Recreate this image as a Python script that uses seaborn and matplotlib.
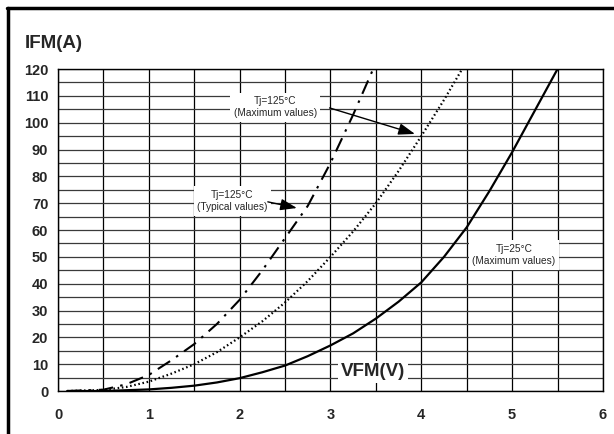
import numpy as np
import pandas as pd
import matplotlib
matplotlib.use("Agg")
import matplotlib.pyplot as plt
from matplotlib.lines import Line2D
import seaborn as sns

# ---- data ----
v_25max = [0.1, 0.5, 1.0, 1.25, 1.5, 1.75, 2.0, 2.25, 2.5, 2.75, 3.0, 3.25, 3.5, 3.75,
           4.0, 4.25, 4.5, 4.75, 5.0, 5.25, 5.5]
i_25max = [0, 0, 0.6, 1.2, 2, 3.2, 4.8, 7, 9.5, 13, 17, 21.5, 27, 33.3,
           40.5, 50, 61, 74.5, 89, 104.5, 120]

v_125max = [0.1, 0.5, 0.75, 1.0, 1.25, 1.5, 1.75, 2.0, 2.25, 2.5, 2.75, 3.0, 3.25, 3.5,
            3.75, 4.0, 4.25, 4.45]
i_125max = [0, 0.4, 1.5, 3.5, 6.5, 10, 14.5, 20, 26, 33, 41, 50, 59.5, 70,
            82, 95, 108.5, 120]

v_125typ = [0.1, 0.5, 0.75, 1.0, 1.25, 1.5, 1.75, 2.0, 2.25, 2.5, 2.75, 3.0, 3.25, 3.47]
i_125typ = [0, 0.5, 2.5, 6, 11.5, 17.5, 25, 34, 45, 57, 69, 85, 103, 120]

x_ticks = [0, 1, 2, 3, 4, 5, 6]
y_ticks = [0, 10, 20, 30, 40, 50, 60, 70, 80, 90, 100, 110, 120]

label_125max = "Tj=125°C\n(Maximum values)"
label_125typ = "Tj=125°C\n(Typical values)"
label_25max = "Tj=25°C\n(Maximum values)"

sns.set_style("white")
plt.rcParams['font.family'] = ['Liberation Sans', 'DejaVu Sans']

fig, ax = plt.subplots(figsize=(6.14, 4.34), dpi=100)
fig.subplots_adjust(left=0.0945, right=0.982, bottom=0.099, top=0.841)

df25 = pd.DataFrame({"V": v_25max, "I": i_25max})
df125m = pd.DataFrame({"V": v_125max, "I": i_125max})
df125t = pd.DataFrame({"V": v_125typ, "I": i_125typ})

sns.lineplot(data=df25, x="V", y="I", ax=ax, color="black", lw=1.6, sort=False, zorder=5)
sns.lineplot(data=df125m, x="V", y="I", ax=ax, color="black", lw=1.6,
             linestyle=(0, (0.7, 1.2)), sort=False, zorder=5)
sns.lineplot(data=df125t, x="V", y="I", ax=ax, color="black", lw=1.5,
             linestyle=(0, (7, 3.5, 1.2, 3.5)), sort=False, zorder=5)

ax.set_xlim(0, 6)
ax.set_ylim(0, 120)
ax.set_xticks(x_ticks)
ax.set_xticklabels([str(t) for t in x_ticks])
ax.set_yticks(y_ticks)
ax.set_yticklabels([str(t) for t in y_ticks])
ax.set_xticks(np.arange(0.5, 6, 1.0), minor=True)
ax.set_yticks(np.arange(5, 120, 10), minor=True)
ax.tick_params(axis='both', which='both', length=0)
ax.tick_params(axis='x', pad=12, labelsize=10.5)
ax.tick_params(axis='y', pad=7, labelsize=10.5)
for lab in ax.get_xticklabels() + ax.get_yticklabels():
    lab.set_fontweight('bold')

ax.xaxis.grid(True, which='both', color='black', lw=0.9)
ax.yaxis.grid(True, which='both', color='#3a3a3a', lw=0.9)
ax.set_axisbelow(True)
for sp in ax.spines.values():
    sp.set_visible(True)
    sp.set_color('black')
    sp.set_linewidth(1.0)
ax.set_xlabel("")
ax.set_ylabel("")

box = dict(boxstyle="square,pad=0.35", fc="white", ec="none")
arrowprops = dict(arrowstyle="-|>,head_length=1.0,head_width=0.35", color="black", lw=1.0,
                  shrinkA=0, shrinkB=0)

ax.text(2.39, 105.8, label_125max, ha="center", va="center", fontsize=7.3,
        bbox=box, zorder=6, linespacing=1.25)
ax.annotate("", xy=(3.93, 95.8), xytext=(2.99, 105.5), arrowprops=arrowprops, zorder=7)

ax.text(1.92, 70.8, label_125typ, ha="center", va="center", fontsize=7.3,
        bbox=box, zorder=6, linespacing=1.25)
ax.annotate("", xy=(2.63, 68.2), xytext=(2.31, 70.5), arrowprops=arrowprops, zorder=7)

ax.text(5.02, 50.7, label_25max, ha="center", va="center", fontsize=7.3,
        bbox=box, zorder=6, linespacing=1.25)

ax.text(3.47, 7.1, "VFM(V)", ha="center", va="center", fontsize=13.5, fontweight="bold",
        bbox=dict(boxstyle="square,pad=0.15", fc="white", ec="none"), zorder=6)

fig.text(25 / 614, 1 - 43 / 434, "IFM(A)", ha="left", va="center", fontsize=13.5,
         fontweight="bold")

# figure frame (left and top edges)
fig.add_artist(Line2D([7.5 / 614, 7.5 / 614], [0, 1 - 7.5 / 434], transform=fig.transFigure,
                      color="black", lw=2.5))
fig.add_artist(Line2D([6.5 / 614, 1], [1 - 7.5 / 434, 1 - 7.5 / 434], transform=fig.transFigure,
                      color="black", lw=2.5))

fig.savefig("out.png", dpi=100)
